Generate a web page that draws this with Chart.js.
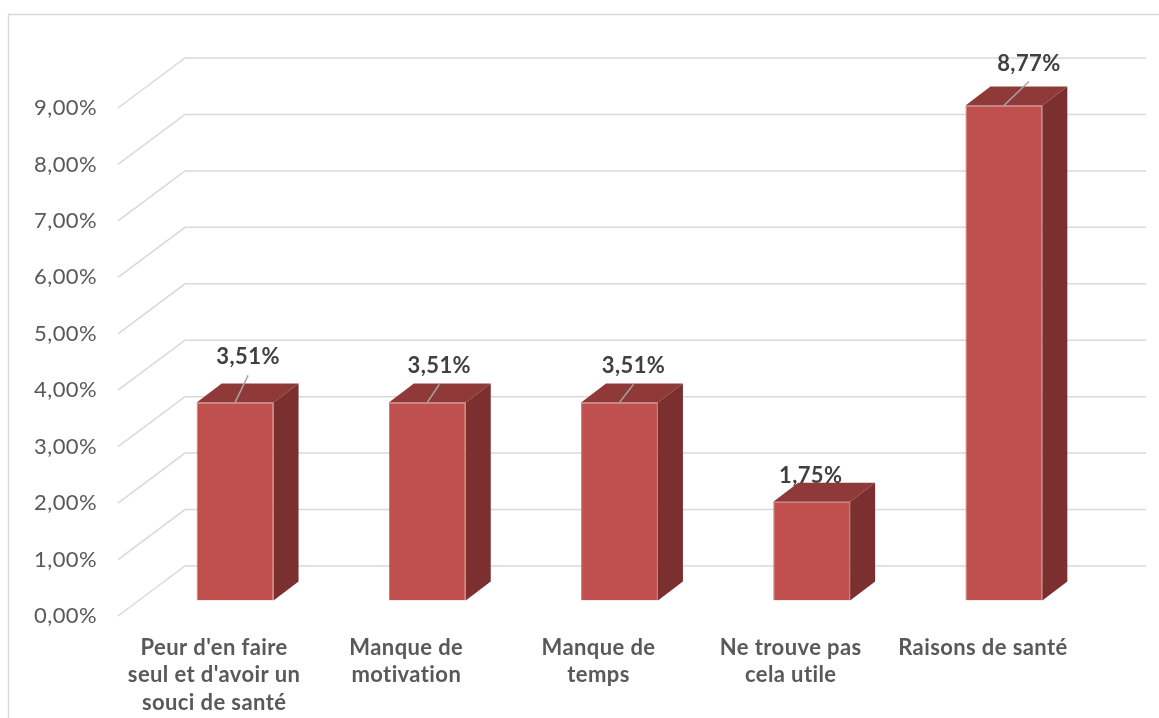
<!DOCTYPE html>
<html>
<head>
<meta charset="utf-8">
<script src="https://cdn.jsdelivr.net/npm/chart.js@4"></script>
<style>
  html, body { margin: 0; padding: 0; background: #ffffff; }
  #wrap { width: 1159px; height: 718px; position: relative; }
</style>
</head>
<body>
<div id="wrap"><canvas id="c"></canvas></div>
<script>
// ---- data ----
const categories = [
  ["Peur d'en faire", "seul et d'avoir un", "souci de santé"],
  ["Manque de", "motivation"],
  ["Manque de", "temps"],
  ["Ne trouve pas", "cela utile"],
  ["Raisons de santé"]
];
const values = [3.51, 3.51, 3.51, 1.75, 8.77];
const yTicks = [0, 1, 2, 3, 4, 5, 6, 7, 8, 9];

// ---- layout / style constants ----
const WALL = { dx: 67, dy: -50 };      // full depth of the 3D box
const FRONT = { dx: 21, dy: -15.5 };   // where the bars' front faces sit
const BAR_DEPTH = { dx: 25, dy: -19 }; // depth of each bar
const labelNudge = [[-12, -26], [-13, -17], [-11, -17], [-26, -7], [0, -23]];
const fmt = v => v.toFixed(2).replace('.', ',') + '%';

const COLORS = {
  front: '#C0504D', top: '#8F3A38', side: '#7B2F2E',
  grid: '#D9D9D9', axisText: '#595959', label: '#404040', leader: '#A6A6A6'
};

const box3d = {
  id: 'box3d',
  beforeDraw(chart) {
    const ctx = chart.ctx;
    if ('letterSpacing' in ctx) ctx.letterSpacing = '0.4px';
    ctx.save();
    ctx.strokeStyle = COLORS.grid;
    ctx.lineWidth = 1.5;
    ctx.strokeRect(8.5, 14.5, 1400, 1000);
    ctx.restore();
  },
  beforeDatasetsDraw(chart) {
    const ctx = chart.ctx, ys = chart.scales.y, a = chart.chartArea;
    ctx.save();
    ctx.strokeStyle = COLORS.grid;
    ctx.lineWidth = 1.5;
    yTicks.forEach(t => {
      const py = ys.getPixelForValue(t);
      ctx.beginPath();
      ctx.moveTo(a.left, py);
      ctx.lineTo(a.left + WALL.dx, py + WALL.dy);
      ctx.lineTo(a.right + WALL.dx, py + WALL.dy);
      ctx.stroke();
    });
    ctx.restore();
    ctx.save();
    ctx.translate(FRONT.dx, FRONT.dy);
  },
  afterDatasetsDraw(chart) {
    const ctx = chart.ctx;
    const meta = chart.getDatasetMeta(0);
    meta.data.forEach(bar => {
      const p = bar.getProps(['x', 'y', 'base', 'width'], true);
      const L = p.x - p.width / 2, R = p.x + p.width / 2, T = p.y, B = p.base;
      // top face
      ctx.fillStyle = COLORS.top;
      ctx.beginPath();
      ctx.moveTo(L, T); ctx.lineTo(R, T);
      ctx.lineTo(R + BAR_DEPTH.dx, T + BAR_DEPTH.dy);
      ctx.lineTo(L + BAR_DEPTH.dx, T + BAR_DEPTH.dy);
      ctx.closePath(); ctx.fill();
      // side face
      ctx.fillStyle = COLORS.side;
      ctx.beginPath();
      ctx.moveTo(R, T); ctx.lineTo(R + BAR_DEPTH.dx, T + BAR_DEPTH.dy);
      ctx.lineTo(R + BAR_DEPTH.dx, B + BAR_DEPTH.dy);
      ctx.lineTo(R, B);
      ctx.closePath(); ctx.fill();
    });
    ctx.restore();
    // data labels with leader lines (screen coordinates)
    ctx.save();
    ctx.font = 'bold 22px Lato';
    ctx.textAlign = 'center';
    ctx.textBaseline = 'middle';
    meta.data.forEach((bar, i) => {
      const p = bar.getProps(['x', 'y'], true);
      const fx = p.x + FRONT.dx, fy = p.y + FRONT.dy;            // front-top centre
      const bx = fx + BAR_DEPTH.dx, by = fy + BAR_DEPTH.dy;      // back-top centre
      const lx = bx + labelNudge[i][0], ly = by + labelNudge[i][1];
      if (Math.hypot(lx - fx, ly - fy) > 30) {
        ctx.strokeStyle = COLORS.leader;
        ctx.lineWidth = 1.5;
        ctx.beginPath();
        ctx.moveTo(lx, ly + 18);
        ctx.lineTo(fx, fy);
        ctx.stroke();
      }
      ctx.fillStyle = COLORS.label;
      ctx.fillText(fmt(values[i]), lx, ly);
    });
    ctx.restore();
  }
};

new Chart(document.getElementById('c'), {
  type: 'bar',
  data: {
    labels: categories,
    datasets: [{
      data: values,
      backgroundColor: COLORS.front,
      borderColor: '#CF6E6B',
      borderWidth: 1,
      barPercentage: 0.4,
      categoryPercentage: 1.0
    }]
  },
  options: {
    responsive: true,
    maintainAspectRatio: false,
    animation: false,
    layout: { padding: { top: 108, right: 80, left: 0, bottom: 0 } },
    plugins: { legend: { display: false }, tooltip: { enabled: false } },
    scales: {
      x: {
        grid: { display: false, drawTicks: false },
        border: { display: false },
        ticks: {
          color: COLORS.axisText,
          font: { family: 'Lato', size: 22, weight: 'bold', lineHeight: 1.25 },
          padding: 18, maxRotation: 0, autoSkip: false
        },
        afterFit(s) { s.height = 102; }
      },
      y: {
        min: 0, max: 9,
        grid: { display: false, drawTicks: false },
        border: { display: false },
        afterBuildTicks(s) { s.ticks = yTicks.map(v => ({ value: v })); },
        ticks: {
          color: COLORS.axisText,
          font: { family: 'Lato', size: 22 },
          padding: 21,
          callback: v => fmt(v)
        },
        afterFit(s) { s.width = 118; }
      }
    }
  },
  plugins: [box3d]
});
</script>
</body>
</html>
